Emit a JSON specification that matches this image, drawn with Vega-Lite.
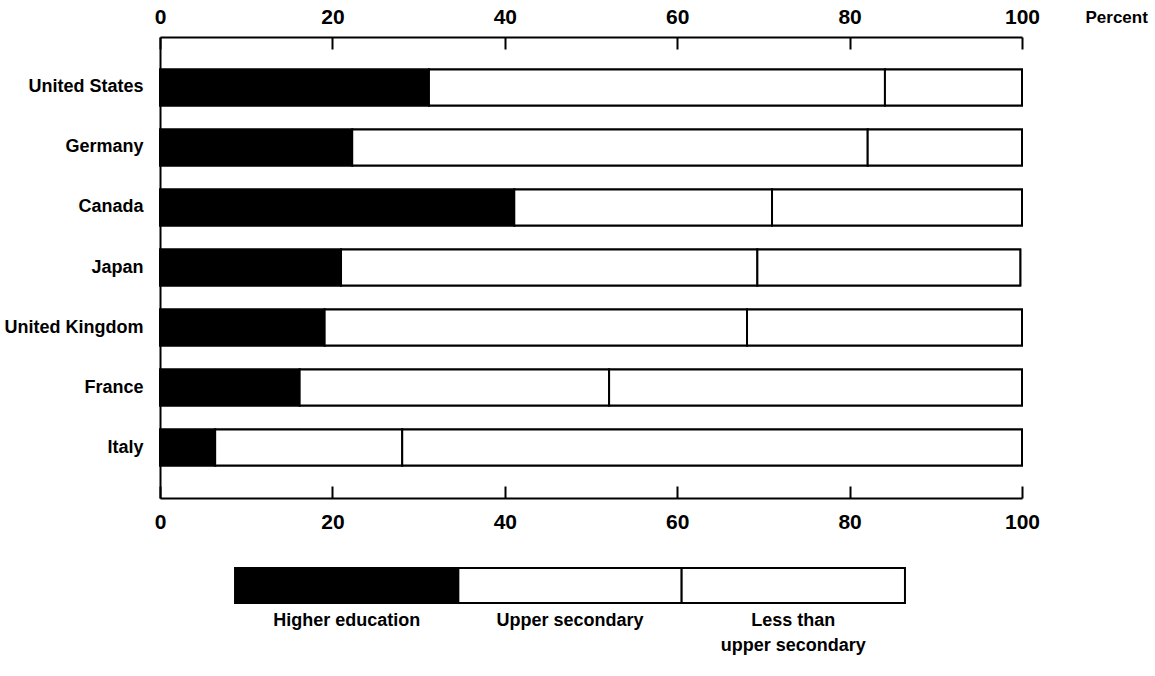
{
  "$schema": "https://vega.github.io/schema/vega-lite/v6.json",
  "background": "white",
  "padding": {"left": 4, "top": 6, "right": 5, "bottom": 5},
  "spacing": 35,
  "config": {
    "view": {"stroke": null},
    "font": "'Liberation Sans', Arial, sans-serif",
    "axis": {"domainColor": "#000", "domainWidth": 2, "tickColor": "#000", "tickWidth": 2, "labelColor": "#000", "labelFont": "'Liberation Sans', Arial, sans-serif", "labelFontWeight": "bold", "grid": false}
  },
  "datasets": {
    "edu": [
      {"country": "United States", "level": "Higher education", "ord": 1, "value": 31.2},
      {"country": "United States", "level": "Upper secondary", "ord": 2, "value": 52.9},
      {"country": "United States", "level": "Less than upper secondary", "ord": 3, "value": 15.9},
      {"country": "Germany", "level": "Higher education", "ord": 1, "value": 22.3},
      {"country": "Germany", "level": "Upper secondary", "ord": 2, "value": 59.8},
      {"country": "Germany", "level": "Less than upper secondary", "ord": 3, "value": 17.9},
      {"country": "Canada", "level": "Higher education", "ord": 1, "value": 41.1},
      {"country": "Canada", "level": "Upper secondary", "ord": 2, "value": 29.9},
      {"country": "Canada", "level": "Less than upper secondary", "ord": 3, "value": 29.0},
      {"country": "Japan", "level": "Higher education", "ord": 1, "value": 21.0},
      {"country": "Japan", "level": "Upper secondary", "ord": 2, "value": 48.3},
      {"country": "Japan", "level": "Less than upper secondary", "ord": 3, "value": 30.5},
      {"country": "United Kingdom", "level": "Higher education", "ord": 1, "value": 19.1},
      {"country": "United Kingdom", "level": "Upper secondary", "ord": 2, "value": 49.0},
      {"country": "United Kingdom", "level": "Less than upper secondary", "ord": 3, "value": 31.9},
      {"country": "France", "level": "Higher education", "ord": 1, "value": 16.2},
      {"country": "France", "level": "Upper secondary", "ord": 2, "value": 35.9},
      {"country": "France", "level": "Less than upper secondary", "ord": 3, "value": 47.9},
      {"country": "Italy", "level": "Higher education", "ord": 1, "value": 6.4},
      {"country": "Italy", "level": "Upper secondary", "ord": 2, "value": 21.7},
      {"country": "Italy", "level": "Less than upper secondary", "ord": 3, "value": 71.9}
    ],
    "legend": [
      {"level": "Higher education", "label": "Higher education"},
      {"level": "Upper secondary", "label": "Upper secondary"},
      {"level": "Less than upper secondary", "label": "Less than\nupper secondary"}
    ]
  },
  "vconcat": [
    {
      "width": 862,
      "height": 461,
      "data": {"name": "edu"},
      "encoding": {
        "y": {
          "field": "country", "type": "nominal",
          "sort": ["United States", "Germany", "Canada", "Japan", "United Kingdom", "France", "Italy"],
          "scale": {"paddingInner": 0.4, "paddingOuter": 0.54},
          "axis": {"title": null, "ticks": false, "labelPadding": 17, "labelFontSize": 18}
        },
        "order": {"field": "ord", "type": "quantitative"},
        "color": {
          "field": "level", "type": "nominal",
          "scale": {"domain": ["Higher education", "Upper secondary", "Less than upper secondary"], "range": ["#000000", "#ffffff", "#ffffff"]},
          "legend": null
        }
      },
      "layer": [
        {
          "mark": {"type": "bar", "stroke": "#000", "strokeWidth": 2, "opacity": 1},
          "encoding": {
            "x": {
              "field": "value", "type": "quantitative", "stack": "zero",
              "scale": {"domain": [0, 100], "nice": false},
              "axis": {"orient": "bottom", "values": [0, 20, 40, 60, 80, 100], "tickSize": -12, "labelPadding": 25, "labelFontSize": 21, "labelFlush": false, "title": null}
            }
          }
        },
        {
          "mark": {"type": "bar", "stroke": "#000", "strokeWidth": 2, "opacity": 1},
          "encoding": {
            "x": {
              "field": "value", "type": "quantitative", "stack": "zero",
              "axis": {"orient": "top", "values": [0, 20, 40, 60, 80, 100], "tickSize": -12, "labelPadding": 22, "labelFontSize": 21, "labelFlush": false,
                "title": "Percent", "titleFont": "'Liberation Sans', Arial, sans-serif", "titleFontWeight": "bold", "titleFontSize": 17, "titleColor": "#000",
                "titleX": 925, "titleY": -20, "titleAlign": "left", "titleBaseline": "middle", "titleAngle": 0}
            }
          }
        }
      ]
    },
    {
      "width": 820,
      "height": 35,
      "data": {"name": "legend"},
      "encoding": {
        "x": {"field": "level", "type": "nominal", "sort": ["Higher education", "Upper secondary", "Less than upper secondary"], "scale": {"paddingInner": 0, "paddingOuter": 0.336}, "axis": null}
      },
      "layer": [
        {
          "mark": {"type": "bar", "stroke": "#000", "strokeWidth": 2, "width": {"band": 1}},
          "encoding": {
            "color": {"field": "level", "type": "nominal", "scale": {"domain": ["Higher education", "Upper secondary", "Less than upper secondary"], "range": ["#000000", "#ffffff", "#ffffff"]}, "legend": null}
          }
        },
        {
          "mark": {"type": "text", "fontWeight": "bold", "fontSize": 18, "baseline": "top", "dy": 26, "lineBreak": "\n", "lineHeight": 25, "color": "#000"},
          "encoding": {"text": {"field": "label"}}
        }
      ]
    }
  ]
}
